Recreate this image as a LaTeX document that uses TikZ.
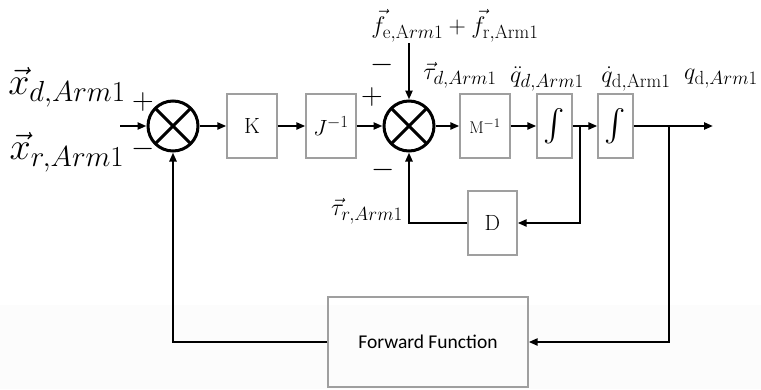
\RequirePackage{fix-cm}
\documentclass[tikz,border=0pt]{standalone}
\usepackage{amsmath,amssymb}
\usepackage{fontspec}
\newfontfamily\carlito{Carlito}
\usetikzlibrary{arrows.meta, positioning}
\DeclareMathSizes{38}{38}{29}{22}
\DeclareMathSizes{24}{24}{19}{14}
\DeclareMathSizes{22}{22}{17}{13}
\DeclareMathSizes{17}{17}{13}{10}

\begin{document}
\begin{tikzpicture}[
    x=1pt, y=-1pt, ->, >={Triangle[length=9pt,width=7pt]},
    line width=2.4pt, node distance=79pt,
    block/.style={rectangle, draw=gray!75, line width=1.3pt, minimum width=50pt,
                  minimum height=64pt, font=\fontsize{22}{26}\selectfont},
    intblock/.style={block, minimum width=35pt},
    summer/.style={circle, draw, line width=3pt, minimum size=50pt, inner sep=0pt,
                   path picture={\draw[-, line width=3pt]
                       (path picture bounding box.north west) -- (path picture bounding box.south east)
                       (path picture bounding box.north east) -- (path picture bounding box.south west);}},
    bigsig/.style={font=\fontsize{38}{42}\selectfont, inner sep=0pt},
    sig/.style={font=\fontsize{24}{28}\selectfont, inner sep=0pt},
    sign/.style={font=\fontsize{30}{32}\selectfont, inner sep=0pt}]

    \useasboundingbox (0,0) rectangle (761,389);
    \fill[gray!2, draw=none] (0,305) rectangle (761,389);

    % Define blocks
    \node[summer] (S1) at (173,126) {};
    \node[block] (K) [right of=S1] {K};
    \node[block] (J) [right of=K] {$J^{-1}$};
    \node[summer] (S2) [right of=J, node distance=78pt] {};
    \node[block, font=\fontsize{17}{20}\selectfont] (M) [right of=S2, node distance=76pt] {$\mathrm{M}^{-1}$};
    \node[intblock] (I1) [right of=M, node distance=69.5pt] {\fontsize{32}{34}\selectfont$\int$};
    \node[intblock] (I2) [right of=I1, node distance=61pt] {\fontsize{32}{34}\selectfont$\int$};
    \node[block, minimum width=49pt] (D) at (492.5,223) {D};
    \node[block, minimum width=200pt, minimum height=90pt, font=\carlito\fontsize{19.5}{22}\selectfont] (FF) at (428,342) {Forward Function};

    % Free ends and branch points
    \coordinate (In) at (120,126);
    \coordinate (Fin) at (409,43);
    \coordinate (B1) at (580,126);
    \coordinate (B2) at (669,126);
    \coordinate (Out) at (713,126);

    % Signals
    \node[bigsig] (xd) at (67,87) {$\vec{x}_{d,Arm1}$};
    \node[bigsig] (xr) at (67,152) {$\vec{x}_{r,Arm1}$};
    \node[sig] (f) at (455,26) {$\vec{f}_{\mathrm{e,A}rm1}+\vec{f}_{\mathrm{r,Arm1}}$};
    \node[sig] (taud) at (460,75) {$\vec{\tau}_{d,Arm1}$};
    \node[sig] (qdd) at (547,79) {$\ddot{q}_{d,Arm1}$};
    \node[sig] (qd1) at (636,79) {$\dot{q}_{\mathrm{d,Arm1}}$};
    \node[sig] (qd) at (721,79) {$q_{\mathrm{d},Arm1}$};
    \node[sig] (taur) at (367,211) {$\vec{\tau}_{r,Arm1}$};

    % Signs
    \node[sign] (p1) at (143,102) {$+$};
    \node[sign] (m1) at (143,149) {$-$};
    \node[sign] (p2) at (372,97) {$+$};
    \node[sign] (m2) at (382,65) {$-$};
    \node[sign] (m3) at (383,170) {$-$};

    % Draw connections
    \draw (In) -- (S1);
    \draw (S1) -- (K);
    \draw (K) -- (J);
    \draw (J) -- (S2);
    \draw (Fin) -- (S2);
    \draw (S2) -- (M);
    \draw (M) -- (I1);
    \draw (I1) -- (I2);
    \draw (I2) -- (Out);
    \draw (B1) |- (D);
    \draw (D) -| (S2);
    \draw (B2) |- (FF);
    \draw (FF) -| (S1);

\end{tikzpicture}
\end{document}
